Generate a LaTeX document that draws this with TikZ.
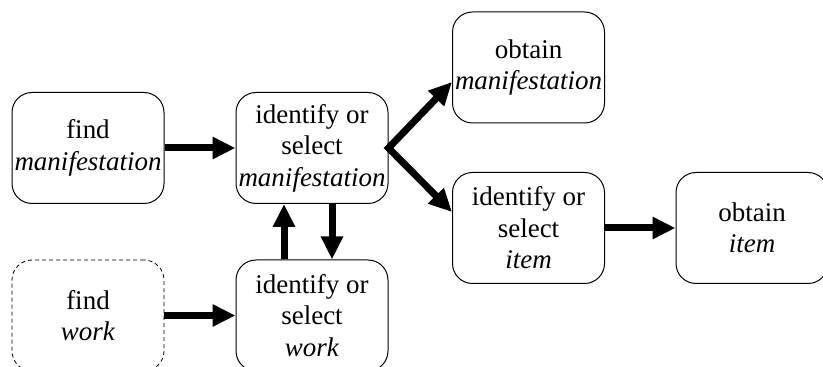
\documentclass[tikz,border=0pt]{standalone}
\usepackage{fontspec}
\setmainfont{Liberation Serif}
\usetikzlibrary{arrows.meta,calc}
\tikzset{
  task/.style={draw, line width=1pt, rounded corners=20pt, minimum width=152pt,
    minimum height=111pt, inner sep=1pt, align=center,
    font=\fontsize{27}{31.5}\selectfont},
  optional/.style={task, dashed, line width=0.8pt, dash pattern=on 4pt off 3pt},
  flow/.style={line width=7pt, -{Triangle[length=23pt,width=21pt]}},
  fork/.style={line width=7pt, {Triangle[length=23pt,width=21pt]}-{Triangle[length=23pt,width=21pt]}}
}
\begin{document}
\begin{tikzpicture}[x=1pt,y=1pt]
  \clip (0,0) rectangle (823,367);
  % boxes
  \node[task] (fm) at (88,219) {find\\\textit{manifestation}};
  \node[task] (ism) at (312,219) {identify or\\select\\\textit{manifestation}};
  \node[optional] (fw) at (88,51.5) {find\\\textit{work}};
  \node[task] (isw) at (312,51.5) {identify or\\select\\\textit{work}};
  \node[task] (om) at (528.5,299.5) {obtain\\\textit{manifestation}};
  \node[task] (isi) at (528.5,139) {identify or\\select\\\textit{item}};
  \node[task] (oi) at (752,139) {obtain\\\textit{item}};
  % fork targets on the left sides of the two right-hand boxes
  \coordinate (omin) at ($(om.west)+(0,-14.5)$);
  \coordinate (isiin) at ($(isi.west)+(0,16)$);
  % connectors
  \draw[flow] (fm.east) -- (ism.west);
  \draw[flow] (fw.east) -- (isw.west);
  \draw[flow] ($(isw.north)+(-28,0)$) -- ($(ism.south)+(-28,0)$);
  \draw[flow] ($(ism.south)+(20,0)$) -- ($(isw.north)+(20,0)$);
  \draw[fork] (omin) -- (ism.east) -- (isiin);
  \draw[flow] (isi.east) -- (oi.west);
\end{tikzpicture}
\end{document}
